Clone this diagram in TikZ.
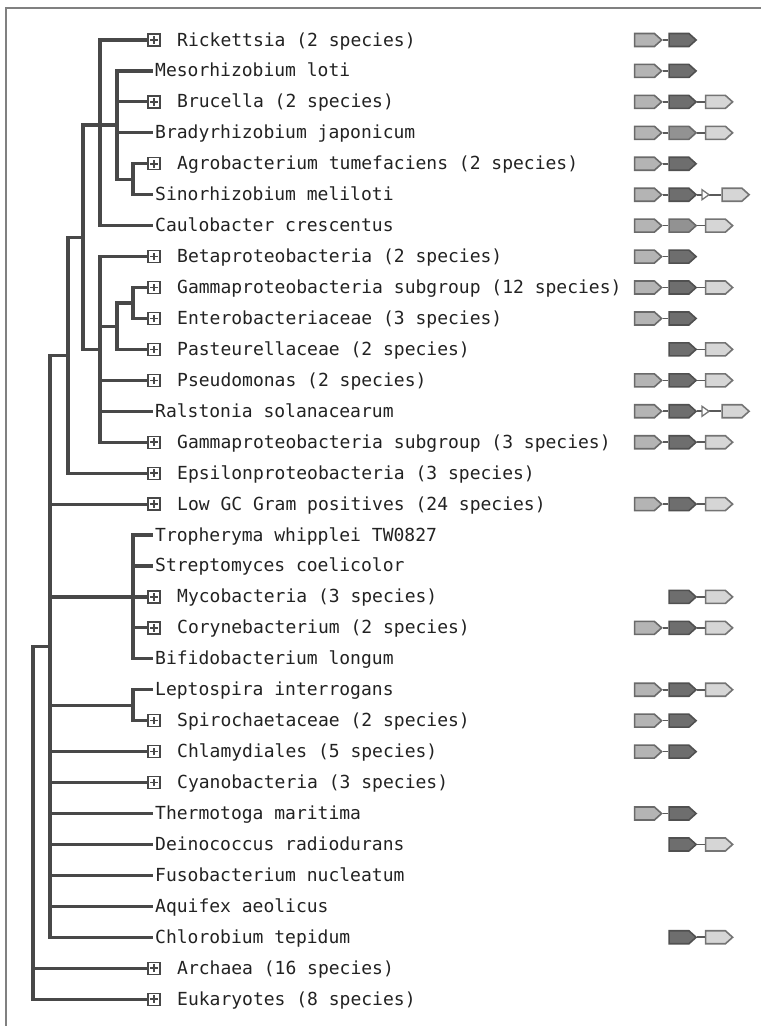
\documentclass[tikz,border=0pt]{standalone}
\usepackage{fontspec}
\setmonofont{DejaVu Sans Mono}
\usetikzlibrary{shapes.symbols}
\definecolor{treec}{HTML}{484848}
\definecolor{textc}{HTML}{222222}
\definecolor{framec}{HTML}{808080}
\definecolor{gAf}{HTML}{B4B4B4}
\definecolor{gAd}{HTML}{6A6A6A}
\definecolor{gBf}{HTML}{6E6E6E}
\definecolor{gBd}{HTML}{505050}
\definecolor{gLf}{HTML}{929292}
\definecolor{gCf}{HTML}{D6D6D6}
\definecolor{gCd}{HTML}{747474}
\definecolor{glc}{HTML}{5A5A5A}
\tikzset{
  brh/.style={draw=treec, line width=3.2pt, line cap=butt},
  brv/.style={draw=treec, line width=3.2pt, line cap=rect},
  lab/.style={anchor=west, inner sep=0pt, text height=13pt, text depth=1pt,
    font=\ttfamily\fontsize{18}{20}\selectfont, text=textc},
  pbox/.style={draw=treec, line width=1.3pt, minimum size=12pt, inner sep=0pt, fill=white,
    path picture={\draw[treec, line width=1.5pt]
      ([xshift=-3.8pt]path picture bounding box.center) -- ([xshift=3.8pt]path picture bounding box.center)
      ([yshift=-3.8pt]path picture bounding box.center) -- ([yshift=3.8pt]path picture bounding box.center);}},
  gene/.style={shape=signal, signal to=east, signal pointer angle=84, minimum width=27pt,
    minimum height=13pt, inner sep=0pt, line width=1.6pt},
  gA/.style={gene, fill=gAf, draw=gAd},
  gB/.style={gene, fill=gBf, draw=gBd},
  gL/.style={gene, fill=gLf, draw=gAd},
  gC/.style={gene, fill=gCf, draw=gCd},
  gl/.style={draw=glc, line width=1.6pt},
  gtri/.style={draw=gCd, line width=1.3pt, fill=white, line join=miter},
}
\newcommand\gab[2]{\node[gA] (#1a) at (644.5,#2) {}; \node[gB] (#1b) at (679,#2) {};
  \draw[gl] (#1a.east) -- (#1b.west);}
\newcommand\gaLc[2]{\node[gA] (#1a) at (644.5,#2) {}; \node[gL] (#1b) at (679,#2) {};
  \node[gC] (#1c) at (715.5,#2) {};
  \draw[gl] (#1a.east) -- (#1b.west); \draw[gl] (#1b.east) -- (#1c.west);}
\newcommand\gabc[2]{\gab{#1}{#2} \node[gC] (#1c) at (715.5,#2) {};
  \draw[gl] (#1b.east) -- (#1c.west);}
\newcommand\gbc[2]{\node[gB] (#1b) at (679,#2) {}; \node[gC] (#1c) at (715.5,#2) {};
  \draw[gl] (#1b.east) -- (#1c.west);}
\newcommand\gabtc[2]{\gab{#1}{#2} \coordinate (#1t) at (702,#2); \node[gC] (#1c) at (732,#2) {};
  \draw[gl] (#1b.east) -- (#1t); \draw[gl] ([xshift=7pt]#1t) -- (#1c.west);
  \draw[gtri] (#1t) -- ++(0,-5) -- ++(7,5) -- ++(-7,5) -- cycle;}
% boxed leaf: name, y, text
\newcommand\bleaf[3]{\node[pbox] (#1B) at (154,#2) {}; \node[lab] (#1) at (177,#2) {#3};}
\newcommand\leaf[3]{\node[lab] (#1) at (155,#2) {#3};}
\begin{document}
\begin{tikzpicture}[x=1pt,y=-1pt]
\useasboundingbox (0,0) rectangle (761,1026);
\draw[framec, line width=2pt] (6,1026) -- (6,8) -- (761,8);

% internal nodes
\coordinate (C) at (133,179.23);
\coordinate (B) at (117,125.09);
\coordinate (A) at (100,125.09);
\coordinate (F) at (133,302.99);
\coordinate (E) at (117,326.2);
\coordinate (D) at (100,349.4);
\coordinate (G) at (83,237.25);
\coordinate (H) at (68,355.2);
\coordinate (J) at (133,596.92);
\coordinate (K) at (133,705.21);
\coordinate (I) at (50,646.2);
\coordinate (R) at (33,646.2);

% leaves
\bleaf{ric}{40}{Rickettsia (2 species)}
\leaf{mes}{70.94}{Mesorhizobium loti}
\bleaf{bru}{101.88}{Brucella (2 species)}
\leaf{bra}{132.82}{Bradyrhizobium japonicum}
\bleaf{agr}{163.76}{Agrobacterium tumefaciens (2 species)}
\leaf{sin}{194.70}{Sinorhizobium meliloti}
\leaf{cau}{225.64}{Caulobacter crescentus}
\bleaf{bet}{256.58}{Betaproteobacteria (2 species)}
\bleaf{gtw}{287.52}{Gammaproteobacteria subgroup (12 species)}
\bleaf{ent}{318.46}{Enterobacteriaceae (3 species)}
\bleaf{pas}{349.40}{Pasteurellaceae (2 species)}
\bleaf{pse}{380.34}{Pseudomonas (2 species)}
\leaf{ral}{411.28}{Ralstonia solanacearum}
\bleaf{gth}{442.22}{Gammaproteobacteria subgroup (3 species)}
\bleaf{eps}{473.16}{Epsilonproteobacteria (3 species)}
\bleaf{low}{504.10}{Low GC Gram positives (24 species)}
\leaf{tro}{535.04}{Tropheryma whipplei TW0827}
\leaf{str}{565.98}{Streptomyces coelicolor}
\bleaf{myc}{596.92}{Mycobacteria (3 species)}
\bleaf{cor}{627.86}{Corynebacterium (2 species)}
\leaf{bif}{658.80}{Bifidobacterium longum}
\leaf{lep}{689.74}{Leptospira interrogans}
\bleaf{spi}{720.68}{Spirochaetaceae (2 species)}
\bleaf{chl}{751.62}{Chlamydiales (5 species)}
\bleaf{cya}{782.56}{Cyanobacteria (3 species)}
\leaf{the}{813.50}{Thermotoga maritima}
\leaf{dei}{844.44}{Deinococcus radiodurans}
\leaf{fus}{875.38}{Fusobacterium nucleatum}
\leaf{aqu}{906.32}{Aquifex aeolicus}
\leaf{chb}{937.26}{Chlorobium tepidum}
\bleaf{arc}{968.20}{Archaea (16 species)}
\bleaf{euk}{999.14}{Eukaryotes (8 species)}

% verticals
\draw[brv] (C |- agr) -- (C |- sin);
\draw[brv] (B |- mes) -- (B |- C);
\draw[brv] (A |- ric) -- (A |- cau);
\draw[brv] (F |- gtw) -- (F |- ent);
\draw[brv] (E |- F) -- (E |- pas);
\draw[brv] (D |- bet) -- (D |- gth);
\draw[brv] (G |- A) -- (G |- D);
\draw[brv] (H |- G) -- (H |- eps);
\draw[brv] (J |- tro) -- (J |- bif);
\draw[brv] (K |- lep) -- (K |- spi);
\draw[brv] (I |- H) -- (I |- chb);
\draw[brv] (R |- I) -- (R |- euk);

% internal horizontals
\draw[brh] (B |- C) -- (C);
\draw[brh] (A |- B) -- (B);
\draw[brh] (G |- A) -- (A);
\draw[brh] (E |- F) -- (F);
\draw[brh] (D |- E) -- (E);
\draw[brh] (G |- D) -- (D);
\draw[brh] (H |- G) -- (G);
\draw[brh] (I |- H) -- (H);
\draw[brh] (I |- J) -- (J);
\draw[brh] (I |- K) -- (K);
\draw[brh] (R |- I) -- (I);

% leaf horizontals
\draw[brh] (A |- ricB) -- (ricB.west);
\draw[brh, shorten >=2pt] (B |- mes) -- (mes.west);
\draw[brh] (B |- bruB) -- (bruB.west);
\draw[brh, shorten >=2pt] (B |- bra) -- (bra.west);
\draw[brh] (C |- agrB) -- (agrB.west);
\draw[brh, shorten >=2pt] (C |- sin) -- (sin.west);
\draw[brh, shorten >=2pt] (A |- cau) -- (cau.west);
\draw[brh] (D |- betB) -- (betB.west);
\draw[brh] (F |- gtwB) -- (gtwB.west);
\draw[brh] (F |- entB) -- (entB.west);
\draw[brh] (E |- pasB) -- (pasB.west);
\draw[brh] (D |- pseB) -- (pseB.west);
\draw[brh, shorten >=2pt] (D |- ral) -- (ral.west);
\draw[brh] (D |- gthB) -- (gthB.west);
\draw[brh] (H |- epsB) -- (epsB.west);
\draw[brh] (I |- lowB) -- (lowB.west);
\draw[brh, shorten >=2pt] (J |- tro) -- (tro.west);
\draw[brh, shorten >=2pt] (J |- str) -- (str.west);
\draw[brh] (J |- mycB) -- (mycB.west);
\draw[brh] (J |- corB) -- (corB.west);
\draw[brh, shorten >=2pt] (J |- bif) -- (bif.west);
\draw[brh, shorten >=2pt] (K |- lep) -- (lep.west);
\draw[brh] (K |- spiB) -- (spiB.west);
\draw[brh] (I |- chlB) -- (chlB.west);
\draw[brh] (I |- cyaB) -- (cyaB.west);
\draw[brh, shorten >=2pt] (I |- the) -- (the.west);
\draw[brh, shorten >=2pt] (I |- dei) -- (dei.west);
\draw[brh, shorten >=2pt] (I |- fus) -- (fus.west);
\draw[brh, shorten >=2pt] (I |- aqu) -- (aqu.west);
\draw[brh, shorten >=2pt] (I |- chb) -- (chb.west);
\draw[brh] (R |- arcB) -- (arcB.west);
\draw[brh] (R |- eukB) -- (eukB.west);

% gene clusters
\gab{xric}{40}
\gab{xmes}{70.94}
\gabc{xbru}{101.88}
\gaLc{xbra}{132.82}
\gab{xagr}{163.76}
\gabtc{xsin}{194.70}
\gaLc{xcau}{225.64}
\gab{xbet}{256.58}
\gabc{xgtw}{287.52}
\gab{xent}{318.46}
\gbc{xpas}{349.40}
\gabc{xpse}{380.34}
\gabtc{xral}{411.28}
\gabc{xgth}{442.22}
\gabc{xlow}{504.10}
\gbc{xmyc}{596.92}
\gabc{xcor}{627.86}
\gabc{xlep}{689.74}
\gab{xspi}{720.68}
\gab{xchl}{751.62}
\gab{xthe}{813.50}
\gbc{xdei}{844.44}
\gbc{xchb}{937.26}
\end{tikzpicture}
\end{document}
